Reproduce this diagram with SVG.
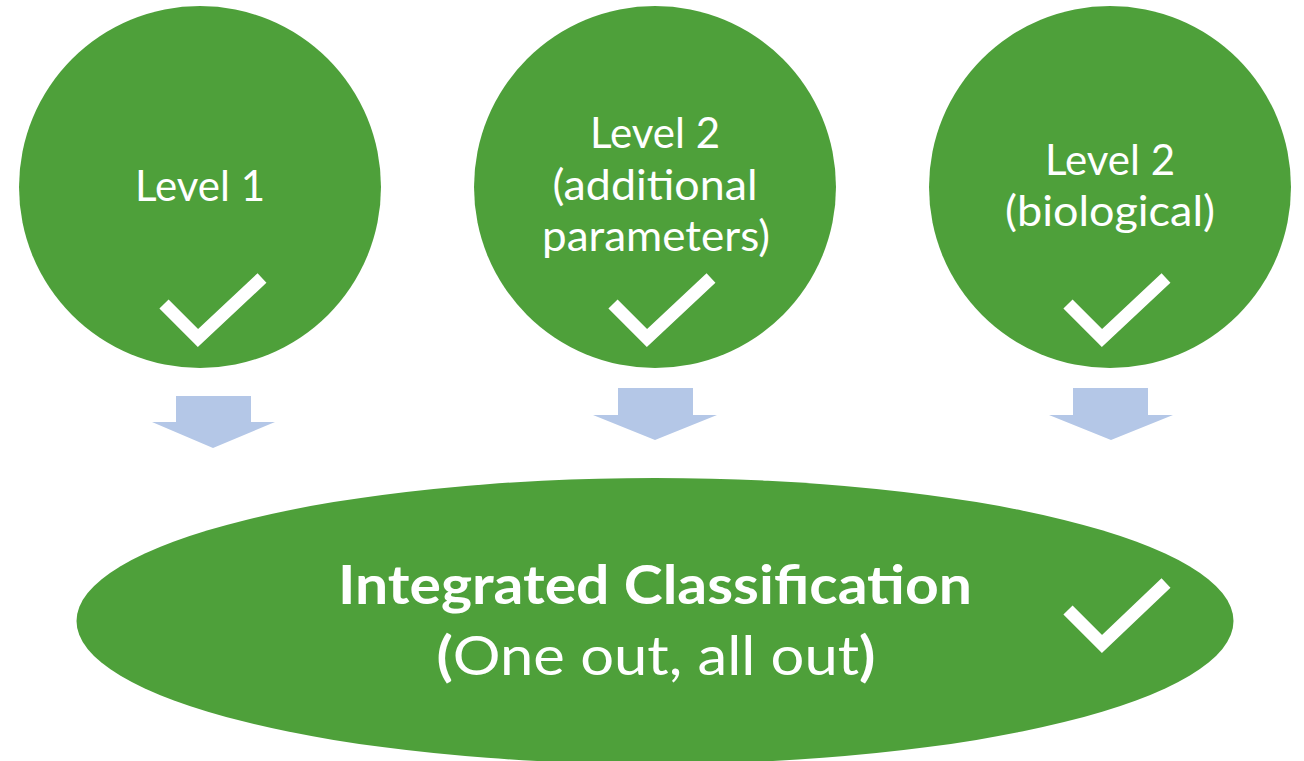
<svg xmlns="http://www.w3.org/2000/svg" width="1304" height="761" viewBox="0 0 1304 761">
<defs>
<style>
.node{fill:#4ea03a}
.lbl{font-family:Lato,"Open Sans","Liberation Sans",sans-serif;fill:#fff;text-anchor:middle;font-size:42px}
.title{font-family:Lato,"Open Sans","Liberation Sans",sans-serif;fill:#fff;text-anchor:middle;font-size:54px}
.chk{fill:none;stroke:#fff;stroke-width:13;stroke-linecap:butt;stroke-linejoin:miter}
.arr{fill:#b4c7e7}
</style>
</defs>
<rect width="1304" height="761" fill="#fff"/>
<g id="node-level1">
<circle class="node" cx="200" cy="187" r="181"/>
<text class="lbl" x="200" y="201" textLength="130" lengthAdjust="spacingAndGlyphs">Level 1</text>
<polyline class="chk" points="164,304 198,338 262,278"/>
</g>
<g id="node-level2-additional">
<circle class="node" cx="655" cy="187" r="181"/>
<text class="lbl" x="655" y="148" textLength="130" lengthAdjust="spacingAndGlyphs">Level 2</text>
<text class="lbl" x="655" y="200" textLength="205" lengthAdjust="spacingAndGlyphs">(additional</text>
<text class="lbl" x="656" y="251" textLength="228" lengthAdjust="spacingAndGlyphs">parameters)</text>
<polyline class="chk" points="613,304 647,338 711,278"/>
</g>
<g id="node-level2-biological">
<circle class="node" cx="1110" cy="187" r="181"/>
<text class="lbl" x="1110" y="175" textLength="130" lengthAdjust="spacingAndGlyphs">Level 2</text>
<text class="lbl" x="1110" y="226" textLength="210" lengthAdjust="spacingAndGlyphs">(biological)</text>
<polyline class="chk" points="1068,304 1102,338 1166,278"/>
</g>
<g id="connectors">
<polygon class="arr" points="176,396 251,396 251,422 275,422 213,448 152,422 176,422"/>
<polygon class="arr" points="618,388 693,388 693,415 717,415 655,440 593,415 618,415"/>
<polygon class="arr" points="1073,388 1148,388 1148,415 1173,415 1111,440 1049,415 1073,415"/>
</g>
<g id="node-integrated">
<ellipse class="node" cx="655" cy="621" rx="578.5" ry="143"/>
<text class="title" x="655" y="604" font-weight="bold" textLength="634" lengthAdjust="spacingAndGlyphs">Integrated Classification</text>
<text class="title" x="656" y="675" textLength="439" lengthAdjust="spacingAndGlyphs"><tspan font-weight="bold">(</tspan>One out, all out<tspan font-weight="bold">)</tspan></text>
<polyline class="chk" points="1068,610 1102,644 1166,583"/>
</g>
</svg>
